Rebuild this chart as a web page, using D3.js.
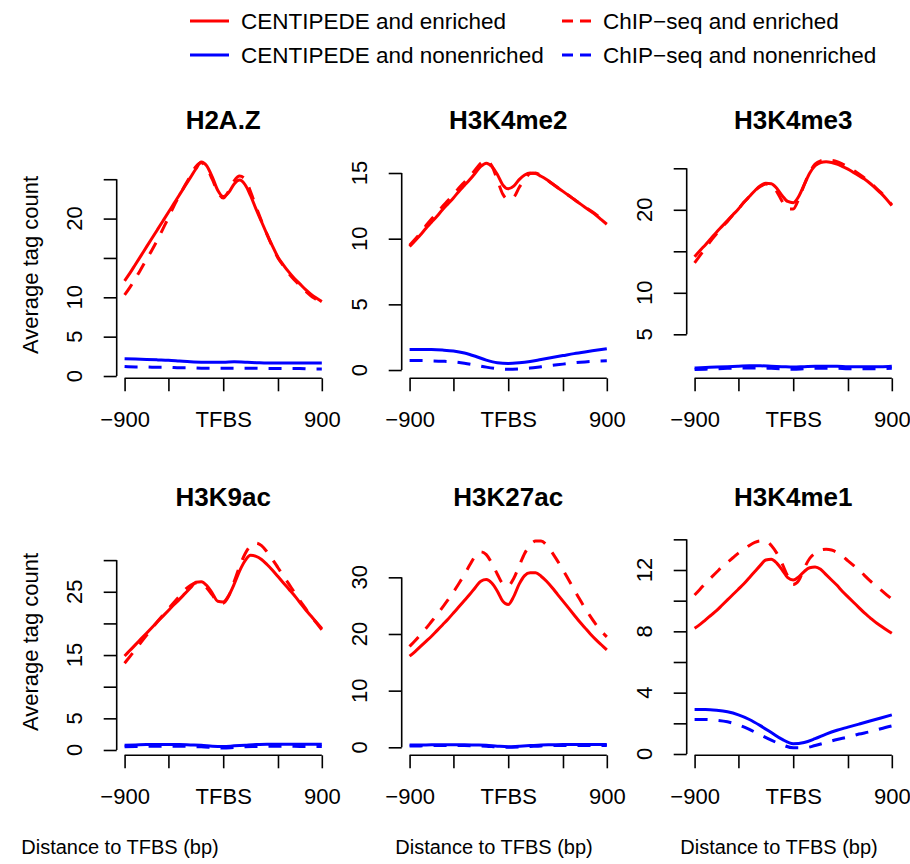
<!DOCTYPE html>
<html>
<head>
<meta charset="utf-8">
<script src="https://cdn.jsdelivr.net/npm/d3@7"></script>
<style>
  body { margin: 0; background: #fff; }
  svg text { font-family: "Liberation Sans", Arial, Helvetica, sans-serif; fill: #000; }
</style>
</head>
<body>
<svg id="chart" width="910" height="864"></svg>
<script>
// Distance to the TFBS (bp) at which the profiles are sampled
const binsFine = [-900,-850,-800,-750,-700,-650,-600,-550,-500,-450,-400,-350,-300,-250,-200,-150,-100,-50,
  0,50,100,150,200,250,300,350,400,450,500,550,600,650,700,750,800,850,900];
const binsCoarse = [-900,-800,-700,-600,-500,-400,-300,-200,-100,0,100,200,300,400,500,600,700,800,900];

const xTicks = [-900, -500, 0, 500, 900];
const xTickLabels = ["\u2212900", "", "TFBS", "", "900"];

const marks = ["H2A.Z", "H3K4me2", "H3K4me3", "H3K9ac", "H3K27ac", "H3K4me1"];

// Average tag counts, enriched sites (sampled on binsFine)
const h2azCentEnr = [12.1,13.1,14.2,15.3,16.4,17.5,18.6,19.7,20.8,21.9,23.0,24.1,25.2,26.3,27.2,26.7,25.3,23.6,
  22.8,23.3,24.4,24.9,24.3,22.9,21.2,19.6,18.0,16.5,15.1,14.1,13.2,12.4,11.7,11.0,10.4,9.9,9.45];
const h2azChipEnr = [10.3,11.3,12.4,13.6,14.8,16.0,17.3,18.7,20.1,21.6,22.9,24.2,25.4,26.6,27.1,26.4,25.0,23.4,
  22.6,23.5,24.8,25.4,25.0,23.4,21.5,19.7,18.0,16.4,15.0,14.0,13.0,12.2,11.5,10.8,10.2,9.7,9.2];
const h3k4me2CentEnr = [9.4,9.85,10.3,10.8,11.25,11.7,12.2,12.65,13.1,13.6,14.05,14.5,15.0,15.5,15.75,15.5,14.9,14.1,
  13.8,14.0,14.5,14.85,15.0,14.95,14.75,14.5,14.2,13.9,13.6,13.3,13.0,12.7,12.4,12.1,11.8,11.45,11.1];
const h3k4me2ChipEnr = [9.5,9.95,10.45,11.0,11.5,11.95,12.45,12.9,13.35,13.85,14.3,14.75,15.25,15.75,15.95,15.55,14.5,13.4,
  13.0,13.15,13.9,14.5,14.95,15.0,14.8,14.5,14.2,13.9,13.6,13.3,13.0,12.7,12.4,12.15,11.85,11.55,11.25];
const h3k4me3CentEnr = [14.35,15.1,15.8,16.55,17.3,18.0,18.7,19.4,20.1,20.9,21.6,22.3,22.9,23.2,23.15,22.6,21.7,21.0,
  20.85,21.6,23.0,24.4,25.3,25.7,25.8,25.7,25.5,25.2,24.9,24.5,24.1,23.7,23.2,22.6,22.0,21.3,20.5];
const h3k4me3ChipEnr = [13.6,14.5,15.4,16.3,17.1,17.9,18.6,19.4,20.1,20.9,21.6,22.3,22.8,23.1,22.9,22.2,21.0,20.1,
  20.1,21.3,23.0,24.5,25.5,25.9,26.0,25.95,25.8,25.5,25.15,24.75,24.3,23.85,23.3,22.7,22.1,21.4,20.6];
const h3k9acCentEnr = [14.85,15.75,16.65,17.55,18.45,19.35,20.25,21.15,22.05,22.95,23.8,24.7,25.6,26.5,26.6,26.0,24.8,23.5,
  23.4,24.4,26.2,28.3,29.9,30.75,30.6,30.1,29.3,28.4,27.4,26.4,25.4,24.4,23.3,22.2,21.2,20.2,19.2];
const h3k9acChipEnr = [13.7,14.8,15.9,17.0,18.1,19.2,20.3,21.3,22.3,23.3,24.3,25.3,26.0,26.4,26.3,25.6,24.5,23.4,
  23.2,24.3,26.6,29.0,31.0,32.3,32.7,32.3,31.3,30.1,28.8,27.5,26.2,24.9,23.6,22.4,21.2,20.1,19.0];
const h3k27acCentEnr = [16.1,16.9,17.8,18.7,19.6,20.6,21.6,22.6,23.7,24.8,25.9,27.0,28.2,29.3,29.6,29.0,27.6,25.8,
  25.2,26.6,28.8,30.3,30.8,30.8,30.2,29.3,28.2,27.0,25.8,24.6,23.4,22.2,21.1,20.0,19.0,18.1,17.2];
const h3k27acChipEnr = [17.8,18.8,19.9,21.0,22.2,23.4,24.7,26.0,27.4,28.9,30.5,32.2,33.8,34.5,34.0,32.5,30.6,28.9,
  28.5,29.8,32.0,34.2,35.7,36.4,36.4,35.7,34.4,32.9,31.3,29.6,27.9,26.2,24.6,23.1,21.7,20.5,19.5];
const h3k4me1CentEnr = [8.2,8.45,8.75,9.05,9.35,9.7,10.05,10.4,10.75,11.1,11.5,11.9,12.3,12.65,12.7,12.45,12.0,11.5,
  11.35,11.55,11.9,12.15,12.2,12.05,11.7,11.35,11.0,10.6,10.25,9.9,9.55,9.2,8.9,8.6,8.35,8.1,7.87];
const h3k4me1ChipEnr = [10.37,10.75,11.15,11.5,11.85,12.2,12.5,12.8,13.1,13.35,13.6,13.8,13.9,13.9,13.6,13.1,12.4,11.6,
  11.05,11.3,12.1,12.75,13.1,13.3,13.35,13.3,13.15,12.9,12.6,12.3,12.0,11.65,11.3,11.0,10.7,10.4,10.1];

// Average tag counts, nonenriched sites (sampled on binsCoarse)
const h2azCentNon = [2.2,2.15,2.1,2.05,2.0,1.9,1.8,1.75,1.75,1.75,1.8,1.75,1.7,1.65,1.65,1.65,1.65,1.65,1.65];
const h2azChipNon = [1.2,1.15,1.15,1.1,1.1,1.05,1.05,1.0,1.0,1.0,1.0,1.0,1.0,0.95,0.95,0.95,0.95,0.9,0.9];
const h3k4me2CentNon = [1.57,1.57,1.56,1.52,1.45,1.3,1.05,0.75,0.55,0.5,0.55,0.65,0.8,0.95,1.1,1.25,1.38,1.5,1.62];
const h3k4me2ChipNon = [0.72,0.72,0.7,0.67,0.62,0.52,0.38,0.22,0.1,0.05,0.08,0.15,0.25,0.35,0.45,0.55,0.62,0.67,0.7];
const h3k4me3CentNon = [0.95,1.0,1.05,1.1,1.15,1.2,1.2,1.15,1.1,1.05,1.1,1.15,1.15,1.15,1.1,1.1,1.1,1.1,1.15];
const h3k4me3ChipNon = [0.75,0.8,0.85,0.9,0.95,0.95,0.95,0.9,0.85,0.8,0.85,0.9,0.9,0.9,0.85,0.85,0.85,0.85,0.9];
const h3k9acCentNon = [0.75,0.8,0.85,0.85,0.85,0.85,0.8,0.75,0.6,0.55,0.65,0.75,0.85,0.9,0.9,0.9,0.9,0.9,0.9];
const h3k9acChipNon = [0.5,0.55,0.6,0.6,0.6,0.6,0.55,0.5,0.4,0.3,0.4,0.5,0.55,0.6,0.6,0.6,0.55,0.55,0.55];
const h3k27acCentNon = [0.4,0.4,0.45,0.45,0.45,0.45,0.4,0.35,0.2,0.1,0.2,0.3,0.4,0.45,0.5,0.5,0.5,0.5,0.5];
const h3k27acChipNon = [0.25,0.25,0.3,0.3,0.3,0.3,0.25,0.2,0.05,0.0,0.05,0.15,0.25,0.3,0.3,0.3,0.3,0.3,0.3];
const h3k4me1CentNon = [2.9,2.9,2.85,2.75,2.55,2.25,1.85,1.4,0.95,0.67,0.75,1.0,1.3,1.55,1.75,1.95,2.15,2.35,2.55];
const h3k4me1ChipNon = [2.25,2.25,2.2,2.1,1.9,1.6,1.25,0.9,0.6,0.4,0.4,0.55,0.75,0.95,1.1,1.3,1.45,1.65,1.83];

// Y axis ticks (and which of them carry a label) per panel
const yTicks = [[0,5,10,15,20,25],[0,5,10,15],[5,10,15,20,25],[0,5,10,15,20,25,30],[0,10,20,30],[0,2,4,6,8,10,12,14]];
const yTickLabels = [[0,5,10,20],[0,5,10,15],[5,10,20],[0,5,15,25],[0,10,20,30],[0,4,8,12]];
const yDomains = [[-0.29,28.51],[-0.63,16.63],[-0.30,27.01],[-0.84,34.98],[-1.41,38.6],[-0.085,14.70]];

const seriesNames = ["CENTIPEDE and enriched", "ChIP\u2212seq and enriched",
                     "CENTIPEDE and nonenriched", "ChIP\u2212seq and nonenriched"];

const panelSeries = [
  [h2azCentEnr, h2azChipEnr, h2azCentNon, h2azChipNon],
  [h3k4me2CentEnr, h3k4me2ChipEnr, h3k4me2CentNon, h3k4me2ChipNon],
  [h3k4me3CentEnr, h3k4me3ChipEnr, h3k4me3CentNon, h3k4me3ChipNon],
  [h3k9acCentEnr, h3k9acChipEnr, h3k9acCentNon, h3k9acChipNon],
  [h3k27acCentEnr, h3k27acChipEnr, h3k27acCentNon, h3k27acChipNon],
  [h3k4me1CentEnr, h3k4me1ChipEnr, h3k4me1CentNon, h3k4me1ChipNon]
];

// ---- drawing ----
const RED = "#ff0000", BLUE = "#0000ff";
const styles = [
  { color: RED, dash: null, bins: binsFine },
  { color: RED, dash: "13,11", bins: binsFine },
  { color: BLUE, dash: null, bins: binsCoarse },
  { color: BLUE, dash: "13,11", bins: binsCoarse }
];

const svg = d3.select("#chart");
const colLeft = [116.7, 401.7, 686.7];
const rowTop = [151.6, 528.6];
const plotW = 213, plotH = 226.7;
const tickLen = 13;
const fontSize = 22;

marks.forEach((mark, i) => {
  const col = i % 3, row = Math.floor(i / 3);
  const left = colLeft[col], top = rowTop[row], bottom = top + plotH;
  const pad = 0.04 * 1800;
  const x = d3.scaleLinear().domain([-900 - pad, 900 + pad]).range([left, left + plotW]);
  const y = d3.scaleLinear().domain(yDomains[i]).range([bottom, top]);
  const g = svg.append("g");

  // series
  const line = bins => d3.line()
    .x((d, k) => x(bins[k]))
    .y(d => y(d))
    .curve(d3.curveMonotoneX);
  // nonenriched first, enriched on top
  [2, 3, 0, 1].forEach(s => {
    const st = styles[s];
    g.append("path")
      .datum(panelSeries[i][s])
      .attr("d", line(st.bins))
      .attr("fill", "none")
      .attr("stroke", st.color)
      .attr("stroke-width", 3)
      .attr("stroke-linejoin", "round")
      .attr("stroke-dasharray", st.dash);
  });

  // x axis (R style: line spans first..last tick)
  const xa = g.append("g").attr("transform", `translate(0,${bottom})`)
    .call(d3.axisBottom(x).tickValues(xTicks).tickSize(tickLen)
      .tickFormat((d, k) => xTickLabels[k]).tickPadding(8));
  xa.select(".domain").remove();
  xa.append("line").attr("x1", x(xTicks[0])).attr("x2", x(xTicks[xTicks.length - 1]))
    .attr("stroke", "#000").attr("stroke-width", 1.6);
  xa.selectAll(".tick line").attr("stroke", "#000").attr("stroke-width", 1.6);
  xa.selectAll(".tick text").attr("font-size", fontSize).attr("dy", "0.71em").attr("y", tickLen + 20);

  // y axis
  const ticks = yTicks[i];
  const ya = g.append("g").attr("transform", `translate(${left},0)`)
    .call(d3.axisLeft(y).tickValues(ticks).tickSize(tickLen).tickFormat(""));
  ya.select(".domain").remove();
  ya.append("line").attr("y1", y(ticks[0])).attr("y2", y(ticks[ticks.length - 1]))
    .attr("stroke", "#000").attr("stroke-width", 1.6);
  ya.selectAll(".tick line").attr("stroke", "#000").attr("stroke-width", 1.6);
  yTickLabels[i].forEach(v => {
    g.append("text")
      .attr("transform", `translate(${left - 35},${y(v)}) rotate(-90)`)
      .attr("text-anchor", "middle")
      .attr("font-size", fontSize)
      .text(v);
  });

  // panel title
  g.append("text")
    .attr("x", left + plotW / 2).attr("y", top - 23)
    .attr("text-anchor", "middle").attr("font-size", 26).attr("font-weight", "bold")
    .text(mark);

  if (col === 0) {
    g.append("text")
      .attr("transform", `translate(38,${(top + bottom) / 2}) rotate(-90)`)
      .attr("text-anchor", "middle").attr("font-size", fontSize)
      .text("Average tag count");
  }
});

// x axis titles under each column
const xTitleCenters = [120, 494, 779];
xTitleCenters.forEach(cx => {
  svg.append("text").attr("x", cx).attr("y", 854)
    .attr("text-anchor", "middle").attr("font-size", 20)
    .text("Distance to TFBS (bp)");
});

// legend
const legendItems = [
  { name: seriesNames[0], style: styles[0], x1: 190, x2: 229, tx: 241, cy: 21 },
  { name: seriesNames[2], style: styles[2], x1: 190, x2: 229, tx: 241, cy: 55 },
  { name: seriesNames[1], style: styles[1], x1: 562, x2: 591, tx: 603, cy: 21 },
  { name: seriesNames[3], style: styles[3], x1: 562, x2: 591, tx: 603, cy: 55 }
];
const lg = svg.append("g");
legendItems.forEach(it => {
  lg.append("line").attr("x1", it.x1).attr("x2", it.x2).attr("y1", it.cy).attr("y2", it.cy)
    .attr("stroke", it.style.color).attr("stroke-width", 3)
    .attr("stroke-dasharray", it.style.dash ? "11,7" : null);
  lg.append("text").attr("x", it.tx).attr("y", it.cy + 8).attr("font-size", 22.5).text(it.name);
});
</script>
</body>
</html>
